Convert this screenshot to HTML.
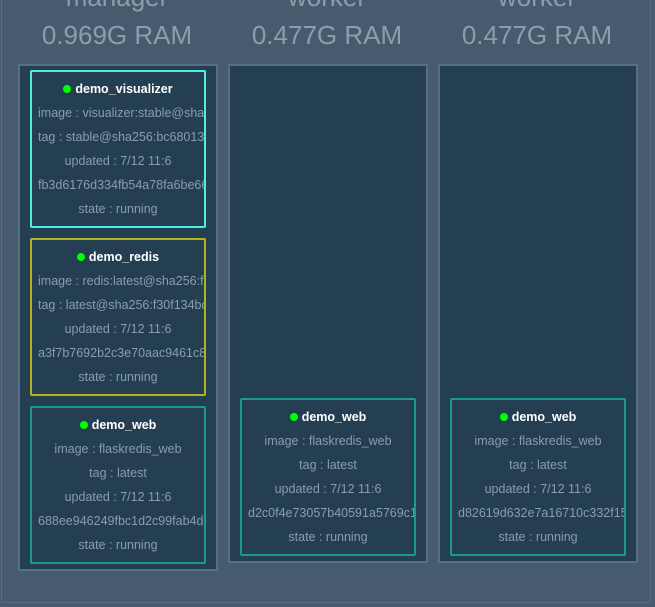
<!DOCTYPE html>
<html><head><style>
body{margin:0;width:655px;height:607px;background:#465b6d;overflow:hidden;position:relative;font-family:"Liberation Sans",sans-serif}
.frame{position:absolute;left:1px;top:-10px;width:650px;height:613px;border:1px solid #566d80;box-sizing:border-box}
.h{position:absolute;width:210px;text-align:center;color:#8d9eab;font-size:26px;white-space:nowrap}
.col{position:absolute;top:64px;width:200px;background:#243f52;border:2px solid #587083;box-sizing:border-box}
.card{position:absolute;width:176px;height:158px;border:2px solid;box-sizing:border-box;border-radius:2px;background:#243f52;overflow:hidden;text-align:center;font-size:12.5px;color:#8b9cab}
.card div{height:24px;line-height:24px;white-space:nowrap;padding:0 6px}
.card .t{color:#fff;font-weight:bold;margin-top:5px}
.dot{display:inline-block;width:8px;height:8px;border-radius:50%;background:#0f0;margin-right:4px;vertical-align:0}
</style></head><body>
<div class="frame"></div>
<div class="h" style="left:12px;top:-18px">manager</div>
<div class="h" style="left:12px;top:20px">0.969G RAM</div>
<div class="h" style="left:222px;top:-18px">worker</div>
<div class="h" style="left:222px;top:20px">0.477G RAM</div>
<div class="h" style="left:432px;top:-18px">worker</div>
<div class="h" style="left:432px;top:20px">0.477G RAM</div>
<div class="col" style="left:18px;height:507px"></div>
<div class="col" style="left:228px;height:499px"></div>
<div class="col" style="left:438px;height:499px"></div>

<div class="card" style="left:30px;top:70px;border-color:#52eedd">
<div class="t"><span class="dot"></span>demo_visualizer</div>
<div>image : visualizer:stable@sha256:bc680132f772cb44062795c514570db2f0b6f91063bc3afa2386edaaa6ef4</div>
<div>tag : stable@sha256:bc680132f772cb44062795c514570db2</div>
<div>updated : 7/12 11:6</div>
<div>fb3d6176d334fb54a78fa6be6604d3</div>
<div>state : running</div></div>

<div class="card" style="left:30px;top:238px;border-color:#b2b322">
<div class="t"><span class="dot"></span>demo_redis</div>
<div>image : redis:latest@sha256:f30f134bd475d451ce3207fb128bcef8ff87d0f520a39cac0c4ea285819c42a9</div>
<div>tag : latest@sha256:f30f134bd475d451ce3207fb128bcef8</div>
<div>updated : 7/12 11:6</div>
<div>a3f7b7692b2c3e70aac9461c8f1e2d</div>
<div>state : running</div></div>

<div class="card" style="left:30px;top:406px;border-color:#1b9c87">
<div class="t"><span class="dot"></span>demo_web</div>
<div>image : flaskredis_web</div>
<div>tag : latest</div>
<div>updated : 7/12 11:6</div>
<div>688ee946249fbc1d2c99fab4dd0a1b</div>
<div>state : running</div></div>

<div class="card" style="left:240px;top:398px;border-color:#1b9c87">
<div class="t"><span class="dot"></span>demo_web</div>
<div>image : flaskredis_web</div>
<div>tag : latest</div>
<div>updated : 7/12 11:6</div>
<div>d2c0f4e73057b40591a5769c1a2b3c</div>
<div>state : running</div></div>

<div class="card" style="left:450px;top:398px;border-color:#1b9c87">
<div class="t"><span class="dot"></span>demo_web</div>
<div>image : flaskredis_web</div>
<div>tag : latest</div>
<div>updated : 7/12 11:6</div>
<div>d82619d632e7a16710c332f15a9b0c</div>
<div>state : running</div></div>
</body></html>
